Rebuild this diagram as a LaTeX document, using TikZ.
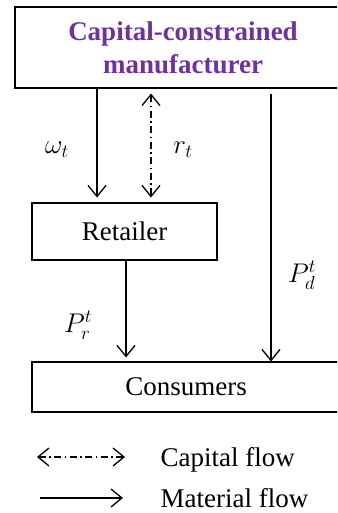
\documentclass[tikz,border=0pt]{standalone}
\usepackage{fix-cm}
\usepackage{amsmath}
\usepackage{fontspec}
\setmainfont{Liberation Serif}
\usetikzlibrary{arrows.meta,calc}
\definecolor{manupurple}{HTML}{7030A0}

\begin{document}
\begin{tikzpicture}[x=1pt, y=-1pt, line width=1.3pt,
  box/.style={draw=black, line width=1.1pt, inner sep=0pt, font=\fontsize{27}{33}\selectfont},
  flow/.style={-{Straight Barb[length=11pt,width=18pt]}},
  cash/.style={{Straight Barb[length=11pt,width=18pt]}-{Straight Barb[length=11pt,width=18pt]},
    dash pattern=on 7pt off 3.5pt on 1.5pt off 3.5pt},
  lbl/.style={font=\fontsize{27}{33}\selectfont}]
  \clip (0,0) rectangle (337,513);

  % boxes
  \node[box, minimum width=336pt, minimum height=81pt, align=center, text=manupurple,
    font=\bfseries\fontsize{27}{33}\selectfont] (manu) at (183,47.5) {Capital-constrained\\manufacturer};
  \node[box, minimum width=185pt, minimum height=57pt] (ret) at (124.5,231.5) {Retailer};
  \node[box, minimum width=308pt, minimum height=50pt] (cons) at (186,387) {Consumers};

  % flows
  \coordinate (xw) at (97,0); \coordinate (xr) at (151,0);
  \coordinate (xp) at (126,0); \coordinate (xd) at (271,0);
  \draw[flow, shorten >=5pt] (manu.south -| xw) -- (ret.north -| xw);
  \draw[cash, shorten <=5pt, shorten >=5pt] (manu.south -| xr) -- (ret.north -| xr);
  \draw[flow, shorten >=4pt] (ret.south -| xp) -- (cons.north -| xp);
  \draw[flow, shorten <=5pt] (manu.south -| xd) -- (cons.north -| xd);

  \node[lbl] (lw) at (57,150) {$\omega_t$};
  \node[lbl] (lr) at (183,150) {$r_t$};
  \node[lbl] (lpd) at (302,275) {$P_d^t$};
  \node[lbl] (lpr) at (78,325) {$P_r^t$};

  % legend
  \coordinate (c1) at (37,457); \coordinate (c2) at (125,457);
  \draw[cash] (c1) -- (c2);
  \node[lbl, anchor=base west, inner sep=0pt] (capflow) at (160,466) {Capital flow};
  \coordinate (m1) at (40,498); \coordinate (m2) at (123,498);
  \draw[flow] (m1) -- (m2);
  \node[lbl, anchor=base west, inner sep=0pt] (matflow) at (160,507) {Material flow};
\end{tikzpicture}
\end{document}
